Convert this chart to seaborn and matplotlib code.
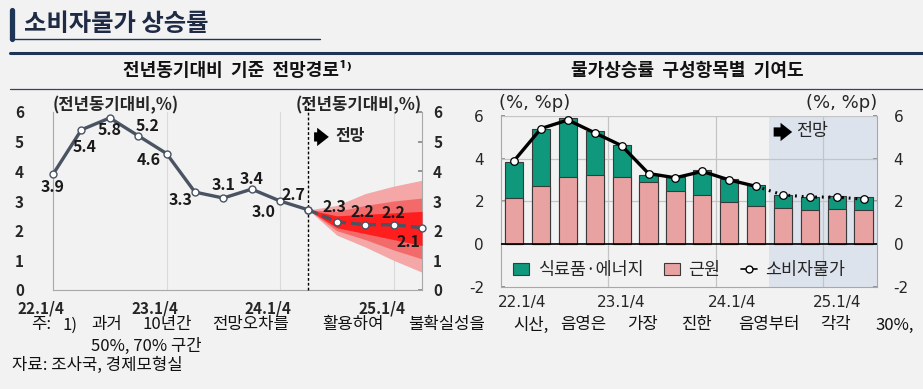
import numpy as np
import pandas as pd
import matplotlib
matplotlib.use("Agg")
import matplotlib.pyplot as plt
import seaborn as sns
from matplotlib.lines import Line2D
from matplotlib.patches import Patch
from matplotlib.transforms import ScaledTranslation

# data
quarters = ["22.1/4", "22.2/4", "22.3/4", "22.4/4", "23.1/4", "23.2/4", "23.3/4",
            "23.4/4", "24.1/4", "24.2/4", "24.3/4", "24.4/4", "25.1/4", "25.2/4"]
cpi = [3.9, 5.4, 5.8, 5.2, 4.6, 3.3, 3.1, 3.4, 3.0, 2.7, 2.3, 2.2, 2.2, 2.1]
core = [2.15, 2.7, 3.15, 3.25, 3.15, 2.9, 2.5, 2.3, 1.95, 1.8, 1.7, 1.6, 1.65, 1.6]
food_energy = [1.7, 2.7, 2.75, 2.05, 1.5, 0.35, 0.65, 1.15, 1.1, 0.95, 0.6, 0.6, 0.6, 0.6]
n_hist = 10  # 22.1/4 ~ 24.2/4 actual, after that forecast

# fan chart bands (24.2/4 ~ 25.2/4)
fan_q = [9, 10, 11, 12, 13]
band70_hi = [2.7, 2.85, 3.25, 3.5, 3.7]
band70_lo = [2.7, 1.85, 1.45, 1.0, 0.6]
band50_hi = [2.7, 2.65, 2.85, 3.0, 3.1]
band50_lo = [2.7, 2.0, 1.7, 1.35, 1.05]
band30_hi = [2.7, 2.5, 2.55, 2.6, 2.65]
band30_lo = [2.7, 2.1, 1.9, 1.7, 1.5]

year_ticks = ["22.1/4", "23.1/4", "24.1/4", "25.1/4"]
footnote_words = ["주:", "1)", "과거", "10년간", "전망오차를", "활용하여", "불확실성을", "시산,",
                  "음영은", "가장", "진한", "음영부터", "각각", "30%,"]
footnote_x = [31, 63, 91, 142, 212, 322, 408, 513, 560, 627, 682, 738, 820, 875]

df = pd.DataFrame({"q": quarters, "idx": np.arange(len(quarters)), "cpi": cpi,
                   "core": core, "fe": food_energy})
df["total"] = df["core"] + df["fe"]

bg = "#f2f2f2"
navy = "#1f3556"
teal = "#0f987b"
pink = "#e9a2a2"
slate = "#4a5362"

sns.set_theme(style="white")
plt.rcParams["font.family"] = ["Noto Sans CJK KR", "DejaVu Sans"]
plt.rcParams["axes.unicode_minus"] = False

W, H = 923, 389
fig = plt.figure(figsize=(W / 100, H / 100), dpi=100)
fig.patch.set_facecolor(bg)


def fx(x):
    return x / W


def fy(y):
    return 1 - y / H


# header
fig.add_artist(Line2D([fx(12), fx(12)], [fy(10), fy(39)], lw=3.8, color=navy))
fig.add_artist(Line2D([fx(10), fx(320)], [fy(39), fy(39)], lw=1.0, color=navy))
fig.text(fx(24), fy(24), "소비자물가 상승률", fontsize=17.5, fontweight="bold",
         color="#1f2b45", va="center", ha="left")
fig.add_artist(Line2D([fx(10), fx(923)], [fy(53), fy(53)], lw=2.2, color=navy))
fig.add_artist(Line2D([fx(10), fx(923)], [fy(89), fy(89)], lw=0.9, color="#34455e"))
fig.text(fx(237), fy(71), "전년동기대비  기준  전망경로¹⁾", fontsize=13,
         fontweight="bold", ha="center", va="center", color="#111111")
fig.text(fx(687), fy(71), "물가상승률  구성항목별  기여도", fontsize=13,
         fontweight="bold", ha="center", va="center", color="#111111")

# ---------------- left: fan chart ----------------
ax1 = fig.add_axes([fx(53), 99 / H, 369 / W, 178 / H])
ax1.set_facecolor(bg)
ax1.fill_between(fan_q, band70_lo, band70_hi, color="#f5a6a6", lw=0, zorder=1)
ax1.fill_between(fan_q, band50_lo, band50_hi, color="#f36a6a", lw=0, zorder=2)
ax1.fill_between(fan_q, band30_lo, band30_hi, color="#ff1e1e", lw=0, zorder=3)

hist = df.iloc[:n_hist]
fcst = df.iloc[n_hist - 1:]
sns.lineplot(data=hist, x="idx", y="cpi", ax=ax1, color=slate, lw=2.4,
             marker="o", ms=5, mfc="white", mec=slate, mew=1, zorder=5, clip_on=False)
sns.lineplot(data=fcst, x="idx", y="cpi", ax=ax1, color=slate, lw=2.4,
             linestyle=(0, (3, 1.5)), marker="o", ms=5, mfc="white", mec=slate,
             mew=1, zorder=5, clip_on=False)

offsets = [(0, -9.5), (2.6, -12.5), (0, -9), (6.5, 7), (-13, -5), (-10.5, -6),
           (0, 9.4), (0, 7.4), (-12, -8), (-11, 11), (-1.4, 10.6), (-1.7, 9.2),
           (0, 8.6), (-10, -10.5)]
for i, v in enumerate(cpi):
    ax1.annotate(f"{v:.1f}", (i, v), xytext=offsets[i], textcoords="offset points",
                 ha="center", va="center", fontsize=11.5, fontweight="bold",
                 color="#1a1a1a", zorder=6)

ax1.axvline(9, ymin=0, ymax=1.05, color="black", lw=1.0, linestyle=(0, (2, 1.5)),
            clip_on=False, zorder=4)
for xv in [4, 8, 12]:
    ax1.axvline(xv, color="#dadada", lw=0.8, zorder=0)

ax1.set_xlim(0, 13)
ax1.set_ylim(0, 6)
ax1.set_yticks(range(0, 7))
ax1.set_xticks([0, 4, 8, 12])
ax1.set_xticklabels([])
xshift = ax1.get_xaxis_transform() + ScaledTranslation(-12 / 100, 0, fig.dpi_scale_trans)
for pos, lab in zip([0, 4, 8, 12], year_ticks):
    ax1.text(pos, -0.102, lab, transform=xshift, ha="center", va="center",
             fontsize=11, fontweight="bold")
ax1.set_xlabel("")
ax1.set_ylabel("")
ax1.tick_params(axis="x", length=0)
ax1.tick_params(axis="y", left=False, right=True, labelleft=True, labelright=True,
                direction="in", length=3, color="#888888", labelsize=11, pad=8)
yshift = ScaledTranslation(-18 / 100, 0, fig.dpi_scale_trans)
for t in ax1.yaxis.get_major_ticks():
    t.label1.set_fontweight("bold")
    t.label2.set_fontweight("bold")
    t.label1.set_transform(t.label1.get_transform() + yshift)
for s in ["left", "right", "bottom"]:
    ax1.spines[s].set_color("#a8a8a8")
    ax1.spines[s].set_linewidth(0.8)
ax1.spines["top"].set_visible(False)

ax1.text(0, 1.04, "(전년동기대비,%)", transform=ax1.transAxes, fontsize=12,
         fontweight="bold", ha="left", va="center")
ax1.text(1.0, 1.04, "(전년동기대비,%)", transform=ax1.transAxes, fontsize=12,
         fontweight="bold", ha="right", va="center")
ax1.annotate("", xy=(0.755, 0.86), xytext=(0.700, 0.86), xycoords="axes fraction",
             arrowprops=dict(arrowstyle="simple,head_width=1.1,head_length=0.7,tail_width=0.55",
                             color="black", lw=0))
ax1.text(0.765, 0.865, "전망", transform=ax1.transAxes, fontsize=11.5,
         fontweight="bold", ha="left", va="center")

# ---------------- right: contributions ----------------
ax2 = fig.add_axes([fx(500.7), 102 / H, 376.3 / W, 171.3 / H])
ax2.set_facecolor(bg)
ax2.axvspan(9.5, 13.5, color="#dde3ed", lw=0, zorder=0)
sns.barplot(data=df, x="q", y="total", ax=ax2, color=teal, saturation=1,
            width=0.68, edgecolor="#3a3a3a", linewidth=0.8, zorder=2)
sns.barplot(data=df, x="q", y="core", ax=ax2, color=pink, saturation=1,
            width=0.68, edgecolor="#3a3a3a", linewidth=0.8, zorder=3)
sns.lineplot(data=hist, x="idx", y="cpi", ax=ax2, color="black", lw=2.4, zorder=4)
sns.lineplot(data=fcst, x="idx", y="cpi", ax=ax2, color="black", lw=2.2,
             linestyle=(0, (0.6, 1.6)), zorder=4)
sns.scatterplot(data=df, x="idx", y="cpi", ax=ax2, s=30, color="white",
                edgecolor="black", linewidth=0.9, zorder=5)

for yv in [2, 4, 6]:
    ax2.axhline(yv, color="#c4c4c4", lw=0.9, zorder=1)
for xv in [3.5, 7.5, 11.5]:
    ax2.axvline(xv, color="#c4c4c4", lw=0.9, zorder=1)
ax2.axhline(0, color="black", lw=1.2, zorder=4)

ax2.set_xlim(-0.5, 13.5)
ax2.set_ylim(-2, 6)
ax2.set_yticks([-2, 0, 2, 4, 6])
ax2.set_yticklabels(["-2", "0", "2", "4", "6"], family="DejaVu Sans", fontsize=11)
ax2.set_xticks([0.3, 4, 8.1, 12])
ax2.set_xticklabels(year_ticks, family="DejaVu Sans", fontsize=11)
ax2.set_xlabel("")
ax2.set_ylabel("")
ax2.tick_params(axis="x", length=0, pad=6)
ax2.tick_params(axis="y", left=True, right=True, labelleft=True, labelright=True,
                direction="in", length=3, color="#888888", pad=12)
for s in ["left", "right", "bottom", "top"]:
    ax2.spines[s].set_color("#a8a8a8")
    ax2.spines[s].set_linewidth(0.8)
ax2.spines["top"].set_visible(False)

ax2.text(-0.005, 1.075, "(%, %p)", transform=ax2.transAxes, family="DejaVu Sans",
         fontsize=13, ha="left", va="center")
ax2.text(1.0, 1.075, "(%, %p)", transform=ax2.transAxes, family="DejaVu Sans",
         fontsize=13, ha="right", va="center")
ax2.annotate("", xy=(0.782, 0.905), xytext=(0.718, 0.905), xycoords="axes fraction",
             arrowprops=dict(arrowstyle="simple,head_width=1.1,head_length=0.7,tail_width=0.55",
                             color="black", lw=0))
ax2.text(0.785, 0.91, "전망", transform=ax2.transAxes, fontsize=12.5,
         ha="left", va="center")

handles = [Patch(facecolor=teal, edgecolor="#3a3a3a", lw=0.8),
           Patch(facecolor=pink, edgecolor="#3a3a3a", lw=0.8),
           Line2D([0], [0], color="black", lw=1.2, marker="o", ms=5, mfc="white",
                  mec="black")]
ax2.legend(handles, ["식료품·에너지", "근원", "소비자물가"], ncol=3, frameon=False,
           loc="center", bbox_to_anchor=(0.475, 0.1), fontsize=12.5,
           handlelength=0.9, handleheight=0.7, handletextpad=0.5, columnspacing=1.2)

# footnotes
for w, x in zip(footnote_words, footnote_x):
    fig.text(fx(x), fy(325), w, fontsize=12, ha="left", va="center", color="#111111")
fig.text(fx(91), fy(346), "50%, 70% 구간", fontsize=12, ha="left", va="center",
         color="#111111")
fig.text(fx(12), fy(365), "자료: 조사국, 경제모형실", fontsize=12, ha="left",
         va="center", color="#111111")

fig.savefig("out.png", dpi=100, facecolor=bg)
